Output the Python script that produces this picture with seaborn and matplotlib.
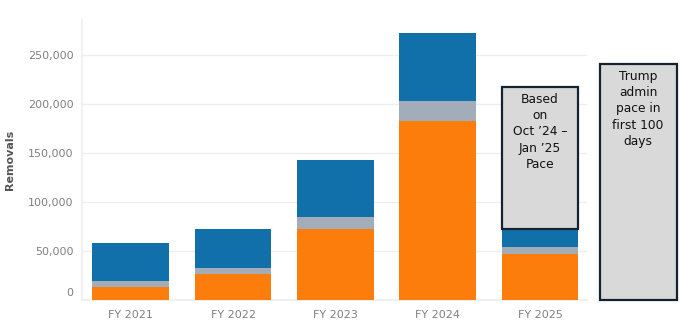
import matplotlib
matplotlib.use("Agg")
import matplotlib.pyplot as plt
import matplotlib.transforms as mtransforms
import seaborn as sns
import numpy as np

years = ["FY 2021", "FY 2022", "FY 2023", "FY 2024", "FY 2025"]
orange_vals = [13000, 27000, 72000, 183000, 47000]
gray_vals = [6700, 6000, 13000, 20000, 7000]
blue_vals = [38500, 39000, 58000, 69000, 18000]
# projection box for FY 2025 (top of box)
fy25_projection_top = 217000
# Trump admin pace box (at an extra slot right of FY 2025)
trump_pace_top = 241000
yticks = [0, 50000, 100000, 150000, 200000, 250000]

BLUE = "#1170AA"
GRAY = "#A3ACB9"
ORANGE = "#FC7D0B"
BOXFILL = "#D9D9D9"
BOXEDGE = "#14232F"

sns.set_theme(style="white")
plt.rcParams["font.family"] = ["DejaVu Sans"]

fig = plt.figure(figsize=(6.8, 3.27), dpi=100)
ax = fig.add_axes([81.7 / 680, 1 - 300 / 327, (587 - 81.7) / 680, 280 / 327])

orange = np.array(orange_vals)
gray = np.array(gray_vals)
blue = np.array(blue_vals)
tot_gray = orange + gray
tot_all = tot_gray + blue

w = 0.75
sns.barplot(x=years, y=tot_all, color=BLUE, saturation=1, width=w, ax=ax, zorder=2, linewidth=0)
sns.barplot(x=years, y=tot_gray, color=GRAY, saturation=1, width=w, ax=ax, zorder=3, linewidth=0)
sns.barplot(x=years, y=orange, color=ORANGE, saturation=1, width=w, ax=ax, zorder=4, linewidth=0)

# FY 2025 projection box
ax.bar(4, fy25_projection_top - tot_all[4], bottom=tot_all[4], width=w,
       color=BOXFILL, edgecolor=BOXEDGE, linewidth=1.6, zorder=5)
ax.text(4, 211500, "Based\non\nOct \u201924 \u2013\nJan \u201925\nPace", ha="center", va="top",
        fontsize=8.8, color="#111111", linespacing=1.33, zorder=6)

# Trump admin pace box (outside plot area)
tx = 4.96
ax.bar(tx, trump_pace_top, width=w, color=BOXFILL, edgecolor=BOXEDGE,
       linewidth=1.6, zorder=5, clip_on=False)
ax.text(tx, 235000, "Trump\nadmin\npace in\nfirst 100\ndays", ha="center", va="top",
        fontsize=8.8, color="#111111", linespacing=1.33, zorder=6, clip_on=False)

ax.set_xlim(-0.48, 4.46)
ax.set_ylim(0, 285700)
ax.set_yticks(yticks)
ax.set_yticklabels([f"{v:,}" for v in yticks])
ax.yaxis.grid(True, color="#EEEEEE", linewidth=0.9, zorder=0)
ax.set_axisbelow(True)
for s in ["top", "right"]:
    ax.spines[s].set_visible(False)
ax.spines["left"].set_color("#EEEEEE")
ax.spines["bottom"].set_color("#EEEEEE")
ax.tick_params(axis="y", length=0, pad=6, labelsize=8, labelcolor="#808080")
ax.tick_params(axis="x", length=0, pad=7, labelsize=8, labelcolor="#808080")

# lift the "0" label like the original
lbl0 = ax.get_yticklabels()[0]
lbl0.set_transform(lbl0.get_transform() + mtransforms.ScaledTranslation(0, 8 / 100, fig.dpi_scale_trans))

ax.set_ylabel("Removals", fontsize=8, color="#555555", fontweight="semibold")
ax.yaxis.set_label_coords((15 - 81.7) / (587 - 81.7), 0.5)
ax.set_xlabel("")

fig.savefig("out.png", dpi=100)
